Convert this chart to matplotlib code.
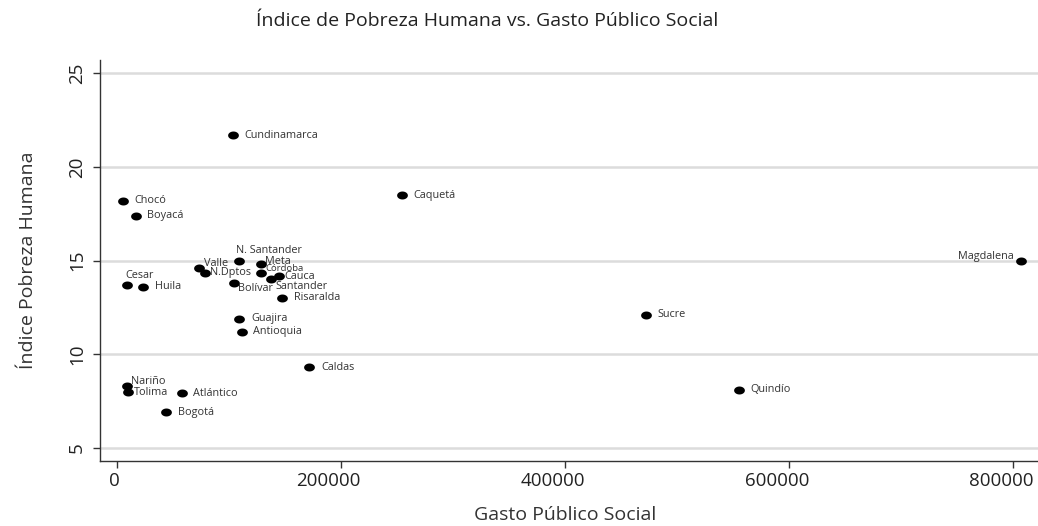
import matplotlib
matplotlib.use("Agg")
import matplotlib.pyplot as plt
import matplotlib.transforms as mtransforms
from matplotlib.path import Path
import numpy as np

plt.rcParams['font.family'] = ['Open Sans', 'DejaVu Sans']

departamentos = ["Cundinamarca", "Chocó", "Boyacá", "Caquetá", "Magdalena", "Sucre",
                 "Quindío", "Caldas", "Nariño", "Tolima", "Atlántico", "Bogotá",
                 "Cesar", "Huila", "Valle", "N.Dptos", "N. Santander", "Meta",
                 "Córdoba", "Cauca", "Santander", "Bolívar", "Risaralda",
                 "Guajira", "Antioquia"]
gasto = [103500, 5500, 17000, 254500, 806500, 472000,
         555000, 172000, 9000, 10500, 58000, 44000,
         9000, 23500, 74000, 78500, 109500, 128500,
         129000, 144500, 138000, 105000, 148000,
         109500, 111500]
ipm = [21.7, 18.2, 17.4, 18.5, 15.0, 12.1,
       8.1, 9.3, 8.3, 8.0, 7.9, 6.9,
       13.7, 13.6, 14.6, 14.35, 14.95, 14.8,
       14.35, 14.2, 14.0, 13.8, 13.0,
       11.9, 11.2]

xticks = [0, 200000, 400000, 600000, 800000]
xticklabels = ["0", "200000", "400000", "600000", "800000"]
yticks = [5, 10, 15, 20, 25]
yticklabels = ["5", "10", "15", "20", "25"]

# label offsets in points (style)
offsets = {
    "Cesar": (-1, 7, 'left'), "N. Santander": (-2, 8, 'left'), "Magdalena": (-5, 3, 'right'),
    "Valle": (3, 3, 'left'), "N.Dptos": (4, 0, 'left'), "Meta": (3, 2, 'left'),
    "Córdoba": (3, 3, 'left'), "Cauca": (4, -1, 'left'), "Santander": (3, -5, 'left'),
    "Bolívar": (3, -4, 'left'), "Nariño": (3, 3, 'left'), "Tolima": (4, -1, 'left'),
}

fig = plt.figure(figsize=(10.38, 5.26), dpi=100)
ax = fig.add_axes([99.7/1038, 1 - 460.7/526, (1038 - 99.7)/1038, (460.7 - 60)/526])

theta = np.linspace(0, 2 * np.pi, 60)
ellipse = Path(np.column_stack([1.35 * np.cos(theta), np.sin(theta)]), closed=True)
ax.scatter(gasto, ipm, s=60, color='black', zorder=3, marker=ellipse, linewidths=0)

for name, x, y in zip(departamentos, gasto, ipm):
    dx, dy, ha = offsets.get(name, (8.5, 0, 'left'))
    fs = 6.8 if name == "Córdoba" else 7.8
    ax.annotate(name, (x, y), xytext=(dx, dy), textcoords='offset points',
                ha=ha, va='center', fontsize=fs, color='#333333', zorder=4)

ax.set_xlim(-15000, 822000)
ax.set_ylim(4.31, 25.71)
ax.set_xticks(xticks)
ax.set_yticks(yticks)
ax.set_yticklabels(yticklabels, rotation=90, va='center')
ax.tick_params(axis='both', labelsize=13.5, labelcolor='#222222', colors='#333333',
               length=5, width=1)
ax.tick_params(axis='x', labelbottom=False)
ax.tick_params(axis='y', pad=5)

# x tick labels (slightly shifted left as in the reference)
base = mtransforms.blended_transform_factory(ax.transData, ax.transAxes)
for t, lab in zip(xticks, xticklabels):
    shift = -12 if len(lab) > 1 else -2
    tr = base + mtransforms.ScaledTranslation(shift/100, -11/100, fig.dpi_scale_trans)
    ax.text(t, 0, lab, transform=tr, ha='center', va='top', fontsize=13.5,
            color='#222222', clip_on=False)

ax.grid(axis='y', color='#dcdcdc', linewidth=1.8, zorder=0)
ax.set_axisbelow(True)
for s in ['top', 'right']:
    ax.spines[s].set_visible(False)
for s in ['left', 'bottom']:
    ax.spines[s].set_color('#333333')
    ax.spines[s].set_linewidth(1)

ax.set_ylabel("Índice Pobreza Humana", fontsize=14, color='#333333', labelpad=22)
fig.text(565/1038, 1 - 515/526, "Gasto Público Social", ha='center', va='center',
         fontsize=14, color='#333333')
fig.text(487/1038, 1 - 21/526, "Índice de Pobreza Humana vs. Gasto Público Social",
         ha='center', va='center', fontsize=14, color='#222222')

fig.savefig("out.png", dpi=100)
